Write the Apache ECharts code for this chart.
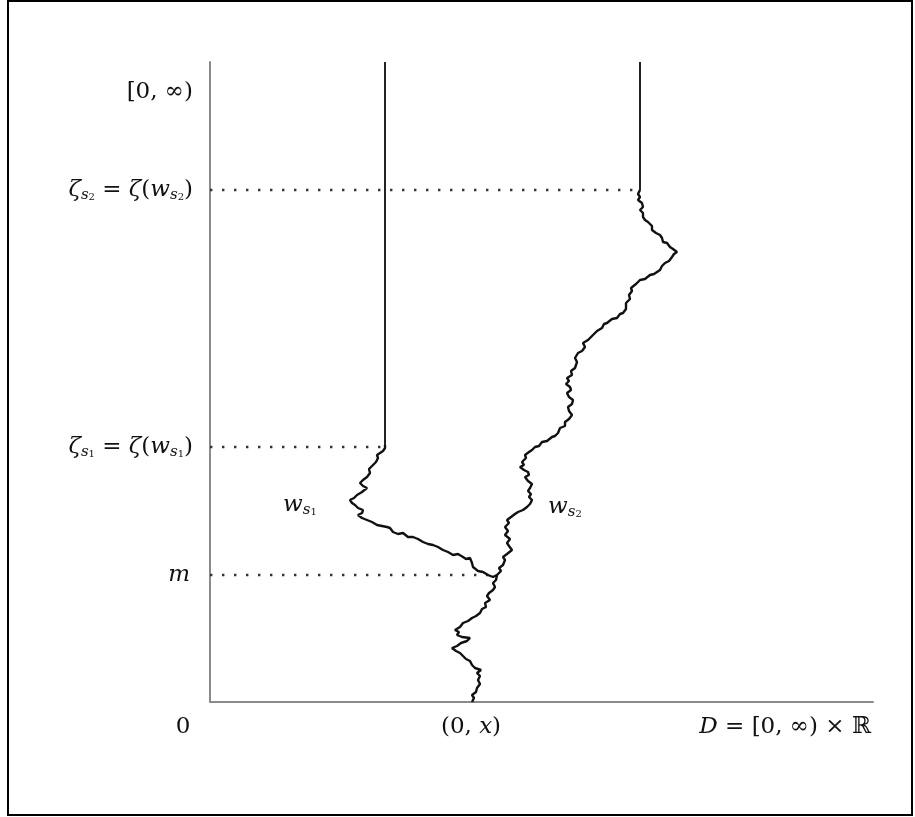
<!DOCTYPE html>
<html><head><meta charset="utf-8">
<script src="https://cdn.jsdelivr.net/npm/echarts@6/dist/echarts.min.js"></script>
<style>html,body{margin:0;padding:0;background:#fff}#c{width:915px;height:817px}</style>
</head><body><div id="c"></div>
<script>
// shared path from (0,x) up to level m
const trunk = [[262,0],[264,4],[262,7],[266,10],[267,14],[270,18],[268,22],[270,26],[267,29],[271,32],[265,34],[262,37],[260,41],[256,43],[253,46],[250,49],[246,51],[242,54],[247,56],[245,57],[251,59],[257,61],[260,64],[252,65],[247,67],[249,70],[245,72],[250,75],[253,79],[258,81],[262,84],[266,86],[270,89],[272,93],[276,95],[275,99],[280,102],[277,106],[279,109],[283,112],[285,115],[283,119],[286,122],[285,124],[287,127]];
// w_s2 above m up to its lifetime
const ws2Upper = [[287,127],[291,131],[289,134],[293,137],[295,142],[293,145],[297,148],[302,152],[299,156],[297,159],[300,163],[295,167],[298,171],[295,175],[299,179],[297,182],[301,185],[305,188],[308,190],[313,192],[317,195],[320,198],[322,202],[319,205],[321,208],[318,211],[320,214],[322,218],[318,221],[315,225],[319,227],[318,230],[314,232],[310,235],[314,237],[312,240],[316,244],[315,247],[319,250],[322,252],[325,255],[329,256],[332,260],[337,261],[342,265],[345,266],[348,269],[350,274],[355,276],[355,280],[359,283],[362,287],[359,291],[358,295],[362,298],[363,302],[359,305],[357,309],[361,312],[360,315],[356,318],[359,321],[357,324],[362,327],[361,331],[365,334],[367,340],[365,344],[368,349],[372,351],[375,355],[373,359],[378,362],[378,364],[383,367],[387,371],[392,374],[394,378],[397,379],[402,383],[407,384],[410,388],[413,389],[416,393],[418,395],[416,399],[420,403],[419,407],[422,411],[421,414],[426,418],[430,422],[435,423],[440,427],[444,428],[450,432],[452,436],[455,439],[459,441],[462,445],[464,448],[467,450],[463,453],[460,455],[457,459],[453,460],[452,464],[450,467],[446,469],[442,472],[442,476],[438,480],[435,482],[433,485],[433,489],[430,492],[433,495],[432,499],[428,502],[430,505],[428,508],[430,510],[430,512]];
// w_s1 branch from m up to its lifetime
const ws1Branch = [[287,127],[283,125],[278,127],[273,130],[268,131],[263,135],[262,139],[260,144],[256,143],[253,145],[248,148],[243,147],[238,150],[233,152],[228,155],[223,157],[218,158],[213,160],[208,163],[203,165],[198,165],[193,169],[188,168],[183,170],[180,174],[177,175],[172,176],[167,177],[162,180],[157,182],[152,184],[148,187],[152,189],[153,192],[148,194],[145,197],[142,199],[140,202],[144,204],[147,207],[152,210],[157,214],[153,216],[150,219],[153,222],[157,225],[160,229],[159,233],[163,237],[166,240],[168,244],[167,247],[170,249],[173,251],[175,254],[175,257]];
const ws2Stop = [[430,512],[430,640]];
const ws1Stop = [[175,257],[175,640]];
const levels = [512, 255, 127];          // zeta_s2, zeta_s1, m
const levelEnds = [430, 173, 280];
const topLevel = 610;
const xStart = 264, xMax = 663, yMax = 640;

const chart = echarts.init(document.getElementById('c'));
const pathStyle = {color:'#111', width:2.4};
const series = [
  {type:'line', data: trunk.concat(ws2Upper), showSymbol:false, lineStyle: pathStyle, z:5},
  {type:'line', data: ws1Branch, showSymbol:false, lineStyle: pathStyle, z:5},
  {type:'line', data: ws2Stop, showSymbol:false, lineStyle:{color:'#222', width:2}},
  {type:'line', data: ws1Stop, showSymbol:false, lineStyle:{color:'#222', width:2}}
];
levels.forEach((v,i)=>{
  series.push({type:'line', data:[[0,v],[levelEnds[i],v]], showSymbol:false,
    lineStyle:{color:'#333', width:2.4, type:[2.4,9.6]}});
});
chart.setOption({
  animation:false,
  backgroundColor:'#fff',
  grid:{left:210, top:62, width:663, height:640},
  xAxis:{type:'value', min:0, max:xMax, axisLine:{show:true, onZero:false, lineStyle:{color:'#8a8a8a', width:2}}, axisTick:{show:false}, axisLabel:{show:false}, splitLine:{show:false}},
  yAxis:{type:'value', min:0, max:yMax, axisLine:{show:true, onZero:false, lineStyle:{color:'#8a8a8a', width:2}}, axisTick:{show:false}, axisLabel:{show:false}, splitLine:{show:false}},
  series: series
});

const F = "'DejaVu Serif', 'Liberation Serif', serif";
const rich = {
  m:{font:"italic 23px "+F, fill:'#111'},
  r:{font:"23px "+F, fill:'#111'},
  sb:{font:"italic 15px "+F, fill:'#111', padding:[10,0,0,0]},
  ss:{font:"10px "+F, fill:'#111', padding:[15,0,0,0]}
};
const P = (x,y)=>chart.convertToPixel({gridIndex:0},[x,y]);
const yLabels = [
  [topLevel, '{r|[0, ∞)}'],
  [levels[0], '{m|ζ}{sb|s}{ss|2}{r| = }{m|ζ}{r|(}{m|w}{sb|s}{ss|2}{r|)}'],
  [levels[1], '{m|ζ}{sb|s}{ss|1}{r| = }{m|ζ}{r|(}{m|w}{sb|s}{ss|1}{r|)}'],
  [levels[2], '{m|m}']
];
const g = [];
yLabels.forEach(([v,t], i)=>{
  const p = P(0,v);
  g.push({type:'text', x:p[0]-(i===3?20:17), y:p[1], style:{text:t, rich:rich, align:'right', verticalAlign:'middle', font:"23px "+F, fill:'#111'}});
});
const o = P(0,0), xs = P(xStart,0), xe = P(xMax,0);
g.push({type:'text', x:o[0]-27, y:o[1]+25, style:{text:'{r|0}', rich:rich, align:'center', verticalAlign:'middle'}});
g.push({type:'text', x:xs[0]-3, y:o[1]+25, style:{text:'{r|(0, }{m|x}{r|)}', rich:rich, align:'center', verticalAlign:'middle'}});
g.push({type:'text', x:xe[0]-2, y:o[1]+25, style:{text:'{m|D}{r| = [0, ∞) × ℝ}', rich:rich, align:'right', verticalAlign:'middle'}});
const l1 = P(73,197), l2 = P(338,195);
g.push({type:'text', x:l1[0], y:l1[1], style:{text:'{m|w}{sb|s}{ss|1}', rich:rich, align:'left', verticalAlign:'middle'}});
g.push({type:'text', x:l2[0], y:l2[1], style:{text:'{m|w}{sb|s}{ss|2}', rich:rich, align:'left', verticalAlign:'middle'}});
g.push({type:'rect', shape:{x:8, y:1, width:904, height:814}, style:{fill:'none', stroke:'#000', lineWidth:2}, silent:true});
chart.setOption({graphic:g});
</script></body></html>
